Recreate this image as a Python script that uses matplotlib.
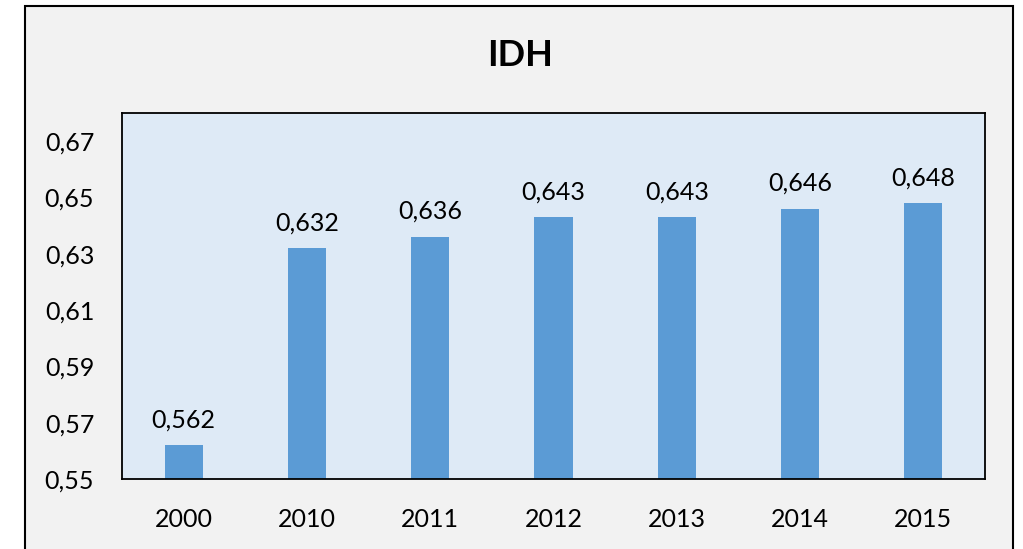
import matplotlib.pyplot as plt
from matplotlib.patches import Rectangle
from matplotlib.ticker import FuncFormatter

years = ['2000', '2010', '2011', '2012', '2013', '2014', '2015']
idh = [0.562, 0.632, 0.636, 0.643, 0.643, 0.646, 0.648]
yticks = [0.55, 0.57, 0.59, 0.61, 0.63, 0.65, 0.67]

plt.rcParams['font.family'] = ['Lato', 'DejaVu Sans']

W, H = 1023, 549
fig = plt.figure(figsize=(W / 100, H / 100), dpi=100)
fig.patch.set_facecolor('white')

# chart frame (grey area with black border), bottom edge runs off the image
fig.patches.append(Rectangle((25 / W, -0.05), (1013 - 25) / W, 1.05 - 6 / H,
                             transform=fig.transFigure, facecolor='#F2F2F2',
                             edgecolor='black', linewidth=1.5, zorder=-1))

ax = fig.add_axes([122 / W, 1 - 479 / H, (985 - 122) / W, (479 - 113) / H])
ax.set_facecolor('#DEEAF6')
for s in ax.spines.values():
    s.set_color('black')
    s.set_linewidth(1.3)

x = range(len(years))
bars = ax.bar(x, idh, width=0.31, color='#5B9BD5', zorder=2)
for xi, v in zip(x, idh):
    ax.annotate(f'{v:.3f}'.replace('.', ','), (xi, v), xytext=(0, 10),
                textcoords='offset points', ha='center', va='bottom',
                fontsize=18, color='black')

ax.set_xlim(-0.5, len(years) - 0.5)
ax.set_ylim(0.55, 0.68)
ax.set_xticks(list(x))
ax.set_xticklabels(years)
ax.set_yticks(yticks)
ax.yaxis.set_major_formatter(FuncFormatter(lambda v, p: f'{v:.2f}'.replace('.', ',')))
ax.tick_params(axis='both', length=0, labelsize=18, colors='black')
ax.tick_params(axis='x', pad=21)
ax.tick_params(axis='y', pad=20)

fig.text(520 / W, 1 - 55 / H, 'IDH', ha='center', va='center',
         fontsize=26, fontweight='bold')

plt.savefig('out.png', dpi=100, facecolor=fig.get_facecolor())
